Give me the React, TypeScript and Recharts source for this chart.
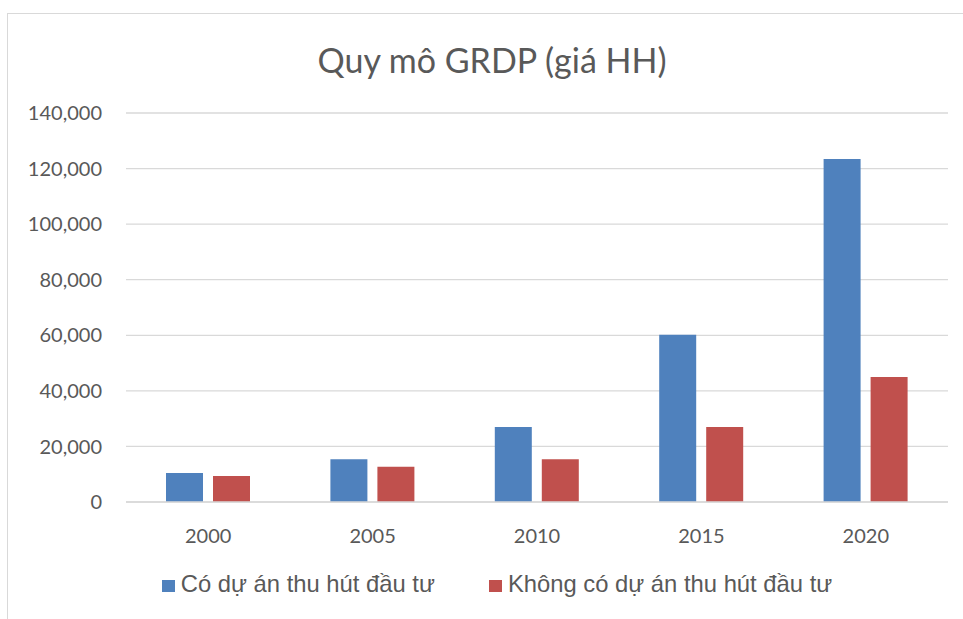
import React from 'react';
import { BarChart, Bar, XAxis, YAxis, CartesianGrid, Legend } from 'recharts';

const years = ['2000', '2005', '2010', '2015', '2020'];
const coDuAn = [10400, 15400, 27000, 60200, 123400];
const khongDuAn = [9400, 12700, 15400, 27000, 45000];
const yTicks = [0, 20000, 40000, 60000, 80000, 100000, 120000, 140000];
const seriesNames = ['Có dự án thu hút đầu tư', 'Không có dự án thu hút đầu tư'];
const title = 'Quy mô GRDP (giá HH)';

const data = years.map((y, i) => ({ year: y, co: coDuAn[i], khong: khongDuAn[i] }));

const fmt = (v: number) => v.toLocaleString('en-US');

const LegendContent = (props: any) => {
  const payload = props.payload || [];
  return (
    <div style={{ display: 'flex', justifyContent: 'center', alignItems: 'center', width: '100%' }}>
      {payload.map((p: any, i: number) => (
        <div key={i} style={{ display: 'flex', alignItems: 'center', marginLeft: i === 0 ? 0 : 54 }}>
          <div style={{ width: 13, height: 12, background: p.color, marginRight: 6, marginTop: 4 }} />
          <span style={{ fontFamily: '"Liberation Sans", Arial, sans-serif', fontSize: 23.8, color: '#595959', whiteSpace: 'nowrap' }}>{p.value}</span>
        </div>
      ))}
    </div>
  );
};

export default function App() {
  return (
    <div style={{ position: 'absolute', left: 0, top: 0, width: 963, height: 619, overflow: 'hidden', background: '#fff' }}>
      <div style={{ position: 'absolute', left: 7, top: 13, width: 1000, height: 700, border: '1px solid #d9d9d9', boxSizing: 'border-box' }} />
      <div style={{ position: 'absolute', left: 0, top: 38, width: 984, textAlign: 'center', fontFamily: 'Lato, sans-serif', fontSize: 34, color: '#595959', lineHeight: '44px' }}>{title}</div>
      <div style={{ position: 'absolute', left: 0, top: 0 }}>
        <BarChart width={963} height={619} data={data} margin={{ top: 113, right: 15, left: 0, bottom: 77 }} barGap={10}>
          <CartesianGrid vertical={false} stroke="#d9d9d9" strokeWidth={1.3} />
          <XAxis dataKey="year" height={40} axisLine={{ stroke: '#d9d9d9', strokeWidth: 1.3 }} tickLine={false} tickMargin={21}
            tick={{ fontFamily: 'Lato, sans-serif', fontSize: 20, fill: '#595959' }} />
          <YAxis width={126} domain={[0, 140000]} ticks={yTicks} tickFormatter={fmt} axisLine={false} tickLine={false} tickMargin={18}
            tick={{ fontFamily: 'Lato, sans-serif', fontSize: 20, fill: '#595959' }} />
          <Legend verticalAlign="middle" align="center" wrapperStyle={{ top: 570, left: 0, width: 994 }} content={<LegendContent />} />
          <Bar dataKey="co" name={seriesNames[0]} fill="#4F81BD" barSize={37} isAnimationActive={false} />
          <Bar dataKey="khong" name={seriesNames[1]} fill="#C0504D" barSize={37} isAnimationActive={false} />
        </BarChart>
      </div>
    </div>
  );
}
